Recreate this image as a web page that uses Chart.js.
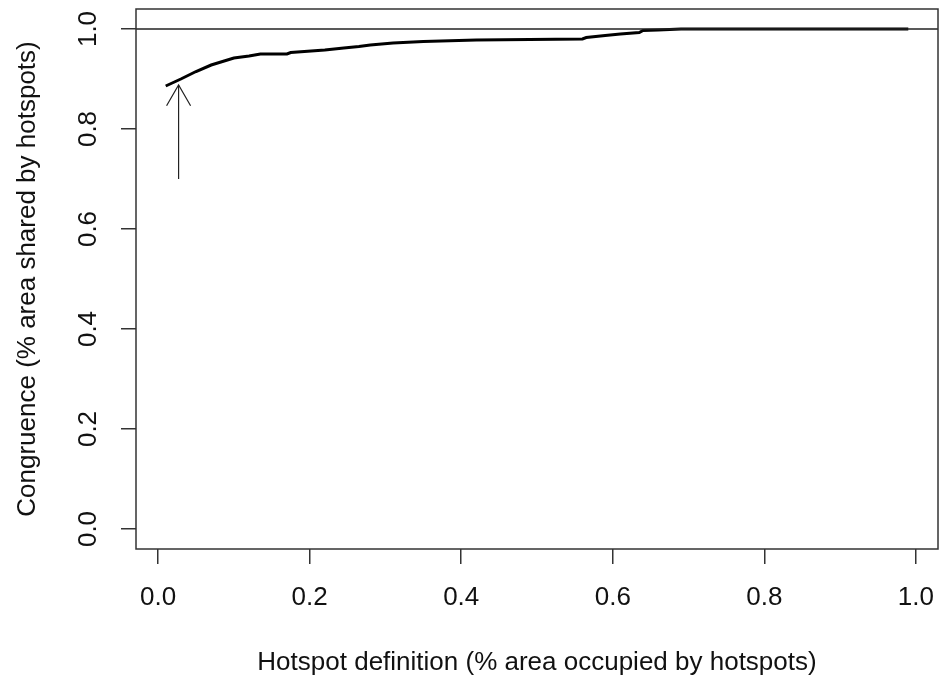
<!DOCTYPE html>
<html>
<head>
<meta charset="utf-8">
<title>Hotspot congruence</title>
<script src="https://cdn.jsdelivr.net/npm/chart.js@4/dist/chart.umd.min.js"></script>
<style>
    html, body { margin: 0; padding: 0; background: #fff; }
    canvas { display: block; }
</style>
</head>
<body>
<canvas id="chart" width="943" height="681"></canvas>
<script>
// curve
const hotspotDef = [0.01, 0.03, 0.05, 0.07, 0.10, 0.12, 0.135, 0.17, 0.175, 0.22, 0.245, 0.265, 0.28, 0.31, 0.35, 0.42, 0.56, 0.565, 0.59, 0.61, 0.635, 0.64, 0.66, 0.69, 0.99];
const congruence = [0.886, 0.900, 0.915, 0.928, 0.942, 0.946, 0.950, 0.950, 0.953, 0.958, 0.962, 0.965, 0.968, 0.972, 0.975, 0.978, 0.980, 0.983, 0.987, 0.990, 0.993, 0.997, 0.998, 1.0, 1.0];

const xTicks = [0, 0.2, 0.4, 0.6, 0.8, 1.0];
const yTicks = [0, 0.2, 0.4, 0.6, 0.8, 1.0];

// arrow marking the chosen definition, and the reference line
const arrowX = 0.027;
const arrowFrom = 0.70;
const arrowTo = 0.888;
const refLine = 1.0;

const FONT = "'Liberation Sans', Arial, sans-serif";
const INK = '#111';

const frame = {
    id: 'frame',
    afterDatasetsDraw(chart) {
        const { ctx, chartArea: a, scales: { x, y } } = chart;
        ctx.save();
        // abline
        const ry = y.getPixelForValue(refLine);
        ctx.strokeStyle = '#222';
        ctx.lineWidth = 1.5;
        ctx.beginPath();
        ctx.moveTo(a.left, ry);
        ctx.lineTo(a.right, ry);
        ctx.stroke();

        // arrow head
        ctx.lineWidth = 1.2;
        const tx = x.getPixelForValue(arrowX);
        const ty = y.getPixelForValue(arrowTo);
        const len = 24, ang = Math.PI / 6;
        ctx.beginPath();
        ctx.moveTo(tx - len * Math.sin(ang), ty + len * Math.cos(ang));
        ctx.lineTo(tx, ty);
        ctx.lineTo(tx + len * Math.sin(ang), ty + len * Math.cos(ang));
        ctx.stroke();

        // box
        ctx.strokeStyle = '#333';
        ctx.lineWidth = 1.5;
        ctx.strokeRect(a.left, a.top, a.right - a.left, a.bottom - a.top);
        ctx.restore();
    }
};

new Chart(document.getElementById('chart'), {
    type: 'line',
    data: {
        datasets: [
            {
                data: hotspotDef.map((v, i) => ({ x: v, y: congruence[i] })),
                borderColor: '#000',
                borderWidth: 3,
                pointRadius: 0,
                tension: 0,
            },
            {
                data: [{ x: arrowX, y: arrowFrom }, { x: arrowX, y: arrowTo }],
                borderColor: '#222',
                borderWidth: 1.2,
                pointRadius: 0,
            },
        ],
    },
    options: {
        responsive: false,
        animation: false,
        devicePixelRatio: 1,
        layout: { padding: { top: 9, right: 5, left: 0, bottom: 0 } },
        plugins: {
            legend: { display: false },
            tooltip: { enabled: false },
        },
        scales: {
            x: {
                type: 'linear',
                min: -0.0292,
                max: 1.0292,
                afterBuildTicks: s => { s.ticks = xTicks.map(v => ({ value: v })); },
                afterFit: s => { s.height = 132; s.paddingLeft = 0; s.paddingRight = 0; },
                ticks: {
                    autoSkip: false,
                    maxRotation: 0,
                    padding: 18,
                    color: INK,
                    font: { family: FONT, size: 26 },
                    callback: v => v.toFixed(1),
                },
                grid: { drawOnChartArea: false, tickLength: 15, color: '#333', lineWidth: 1.5 },
                border: { display: false },
                title: {
                    display: true,
                    text: 'Hotspot definition (% area occupied by hotspots)',
                    color: INK,
                    font: { family: FONT, size: 26 },
                    padding: { top: 0, bottom: 3 },
                },
            },
            y: {
                type: 'linear',
                min: -0.04,
                max: 1.04,
                afterBuildTicks: s => { s.ticks = yTicks.map(v => ({ value: v })); },
                afterFit: s => { s.width = 136; s.paddingTop = 0; s.paddingBottom = 0; },
                ticks: {
                    autoSkip: false,
                    minRotation: 90,
                    maxRotation: 90,
                    crossAlign: 'center',
                    padding: 14,
                    color: INK,
                    font: { family: FONT, size: 26 },
                    callback: v => v.toFixed(1),
                },
                grid: { drawOnChartArea: false, tickLength: 15, color: '#333', lineWidth: 1.5 },
                border: { display: false },
                title: {
                    display: true,
                    text: 'Congruence (% area shared by hotspots)',
                    color: INK,
                    font: { family: FONT, size: 26 },
                    padding: { top: 12, bottom: 0 },
                },
            },
        },
    },
    plugins: [frame],
});
</script>
</body>
</html>
